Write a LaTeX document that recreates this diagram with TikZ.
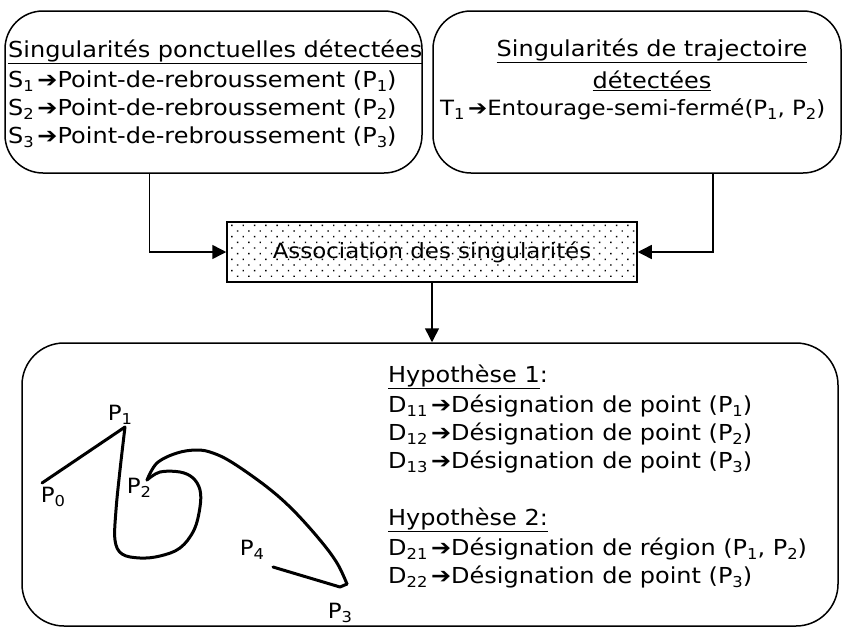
\documentclass[tikz,border=0pt]{standalone}
\usepackage{fontspec}
\setmainfont{DejaVu Sans}[FakeStretch=1.09]
\usetikzlibrary{arrows.meta,patterns.meta}
\newcommand{\sbs}[1]{\raisebox{-4pt}{\fontsize{15}{15}\selectfont #1}}
\newcommand{\arr}{\,➔}
\begin{document}
\begin{tikzpicture}[x=1pt,y=-1pt,
  box/.style={draw, line width=1.5pt, rounded corners=38pt, inner sep=0pt},
  assoc/.style={draw, line width=1.5pt, inner sep=0pt,
    pattern={Dots[distance=8pt, angle=45, radius=1pt]}},
  conn/.style={line width=1.5pt, -{Triangle[length=14pt,width=14pt]}},
  txt/.style={anchor=base west, inner sep=0pt, font=\fontsize{22}{26}\selectfont},
  lbl/.style={inner sep=0pt, font=\fontsize{21}{26}\selectfont},
  traj/.style={line width=3pt, line join=round, line cap=round}]
\useasboundingbox (0,0) rectangle (843,627);

% boxes
\node[box, minimum width=417pt, minimum height=162pt] (L) at (213.5,92) {};
\node[box, minimum width=408pt, minimum height=162pt] (R) at (637,92) {};
\node[assoc, minimum width=410pt, minimum height=60pt,
  font=\fontsize{21}{26}\selectfont] (A) at (432,252) {Association des singularités};
\node[box, rounded corners=42pt, minimum width=816pt, minimum height=283pt] (H) at (430,484.5) {};

% left box text
\node[txt] (l0) at (8,57) {\underline{Singularités ponctuelles détectées}};
\node[txt] (l1) at (8,87) {S\sbs{1}\arr Point-de-rebroussement (P\sbs{1})};
\node[txt] (l2) at (8,115) {S\sbs{2}\arr Point-de-rebroussement (P\sbs{2})};
\node[txt] (l3) at (8,143) {S\sbs{3}\arr Point-de-rebroussement (P\sbs{3})};

% right box text
\node[txt, anchor=base] (r0) at (652,56) {\underline{Singularités de trajectoire}};
\node[txt, anchor=base] (r1) at (652,88) {\underline{détectées}};
\node[txt, font=\fontsize{21}{26}\selectfont] (r2) at (440,115) {T\sbs{1}\arr Entourage-semi-fermé(P\sbs{1}, P\sbs{2})};

% connectors
\draw[conn] (L.south west) ++(145,0) |- (A.west);
\draw[conn] (R.south east) ++(-129,0) |- (A.east);
\draw[conn] (A.south) -- (A.south |- H.north);

% hypotheses text
\node[txt] (h1) at (388,382) {\underline{Hypothèse 1}:};
\node[txt] (d11) at (388,412) {D\sbs{11}\arr Désignation de point (P\sbs{1})};
\node[txt] (d12) at (388,440) {D\sbs{12}\arr Désignation de point (P\sbs{2})};
\node[txt] (d13) at (388,468) {D\sbs{13}\arr Désignation de point (P\sbs{3})};
\node[txt] (h2) at (388,525) {\underline{Hypothèse 2:}};
\node[txt] (d21) at (388,555) {D\sbs{21}\arr Désignation de région (P\sbs{1}, P\sbs{2})};
\node[txt] (d22) at (388,583) {D\sbs{22}\arr Désignation de point (P\sbs{3})};

% trajectory
\coordinate (p0) at (42,483);
\coordinate (p1) at (125,427);
\coordinate (p2) at (147,480);
\coordinate (p3) at (347,586);
\coordinate (p4) at (273,567);
\draw[traj] (p0) -- (p1);
\draw[traj] plot[smooth, tension=0.6] coordinates {(125,427) (120,470) (116,510) (115,540) (122,554) (140,558) (160,556) (180,548) (194,530) (200,507) (200,490) (193,478) (180,472) (160,472) (147,480)};
\draw[traj] plot[smooth, tension=0.6] coordinates {(147,480) (157,463) (177,453) (197,450) (213,453) (233,463) (267,487) (293,510) (320,540) (337,563) (347,584)};
\draw[traj] (347,584) -- (340,587) -- (p4);

\node[lbl] (lp0) at (53,497) {P\sbs{0}};
\node[lbl] (lp1) at (120,415) {P\sbs{1}};
\node[lbl] (lp2) at (139,488) {P\sbs{2}};
\node[lbl] (lp4) at (252,550) {P\sbs{4}};
\node[lbl] (lp3) at (340,613) {P\sbs{3}};
\end{tikzpicture}
\end{document}
